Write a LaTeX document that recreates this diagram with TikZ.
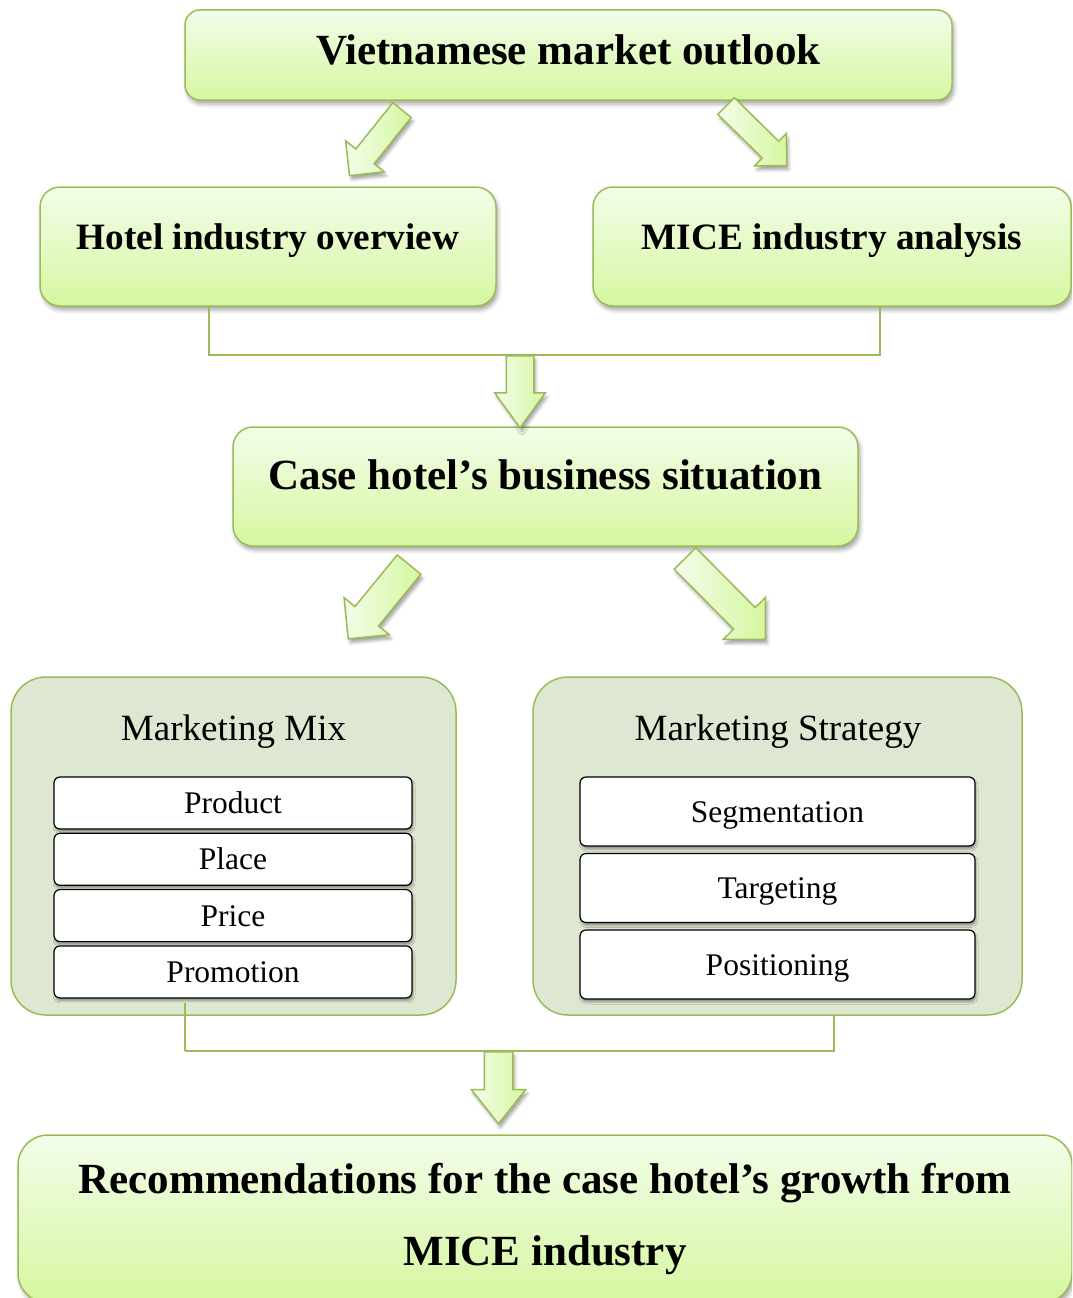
\documentclass[tikz,border=0pt]{standalone}
\usepackage{fontspec}
\setmainfont{Liberation Serif}
\usetikzlibrary{shapes.arrows,shadows.blur}

\definecolor{grnline}{RGB}{155,187,89}
\definecolor{grntop}{RGB}{243,253,234}
\definecolor{grnbot}{RGB}{214,247,160}
\definecolor{panelfill}{RGB}{222,231,209}

\tikzset{
	greenbox/.style={draw=grnline, line width=1.5pt, rounded corners=20pt, top color=grntop, bottom color=grnbot,
		blur shadow={shadow xshift=2pt, shadow yshift=-4pt, shadow blur radius=4pt, shadow opacity=35},
		font=\fontsize{43}{50}\selectfont\bfseries},
	onerow/.style={text height=22pt, text depth=16pt},
	subfont/.style={font=\fontsize{37.2}{44}\selectfont\bfseries},
	panel/.style={draw=grnline, line width=1.5pt, rounded corners=35pt, fill=panelfill},
	itembox/.style={draw=black, line width=1.2pt, fill=white, rounded corners=6pt, text height=21pt, text depth=0pt,
		blur shadow={shadow xshift=1pt, shadow yshift=-3pt, shadow blur radius=2pt, shadow opacity=35},
		font=\fontsize{31.5}{36}\selectfont},
	paneltitle/.style={anchor=base, font=\fontsize{37}{44}\selectfont},
	bigarrow/.style={single arrow, draw=grnline, line width=1.5pt, left color=grntop, right color=grnbot,
		inner xsep=0pt, minimum width=0pt, anchor=tail,
		blur shadow={shadow xshift=2pt, shadow yshift=-4pt, shadow blur radius=3pt, shadow opacity=35}},
	link/.style={draw=grnline, line width=1.5pt}
}

\begin{document}
\begin{tikzpicture}[x=1pt,y=-1pt]
	\useasboundingbox (0,0) rectangle (1072,1298);
	\clip (0,0) rectangle (1072,1298);
	% joints of the two collecting lines
	\coordinate (j1) at (209,355);
	\coordinate (j2) at (880,355);
	\coordinate (j3) at (185,1051);
	\coordinate (j4) at (834,1051);
	% upper part
	\node[greenbox, onerow, minimum width=767pt, minimum height=90pt, rounded corners=15pt,
		text height=25pt, text depth=7pt] (outlook) at (568.5,55) {Vietnamese market outlook};
	\node[greenbox, onerow, subfont, minimum width=456pt, minimum height=119pt] (hotel) at (268,246.5) {Hotel industry overview};
	\node[greenbox, onerow, subfont, minimum width=478pt, minimum height=119pt] (mice) at (832,246.5) {MICE industry analysis};
	\draw[link] (hotel.south -| j1) -- (j1) -- (j2) -- (mice.south -| j2);
	\node[greenbox, onerow, minimum width=625pt, minimum height=119pt] (case) at (545.5,486.5) {Case hotel’s business situation};
	\node[bigarrow, inner ysep=11pt, single arrow head extend=13pt, minimum height=84pt, rotate=-128.7] (arrA) at (402.5,109.5) {};
	\node[bigarrow, inner ysep=11pt, single arrow head extend=11pt, minimum height=85pt, rotate=-44.5] (arrB) at (725.5,105.5) {};
	\node[bigarrow, inner ysep=13pt, single arrow head extend=11.5pt, single arrow tip angle=72, minimum height=72pt, rotate=-90] (arrE) at (520,355) {};
	% marketing panels
	\draw[link] (j3) -- (j4) -- (834,1015);
	\node[panel, minimum width=445pt, minimum height=338pt] (mix) at (233.5,846) {};
	\node[panel, minimum width=489pt, minimum height=338pt] (strat) at (777.5,846) {};
	\draw[link] (185,1003) -- (j3);
	\node[paneltitle] (mixtitle) at (233.5,740) {Marketing Mix};
	\node[paneltitle] (strattitle) at (778,740) {Marketing Strategy};
	\foreach \lbl [count=\i] in {Product,Place,Price,Promotion}
		\node[itembox, minimum width=358pt, minimum height=52pt] (mix\i) at (233,803+56.3*\i-56.3) {\lbl};
	\foreach \lbl [count=\i] in {Segmentation,Targeting,Positioning}
		\node[itembox, minimum width=395pt, minimum height=69pt] (strat\i) at (777.5,811.5+76.5*\i-76.5) {\lbl};
	\node[bigarrow, inner ysep=14.5pt, single arrow head extend=14pt, minimum height=96pt, rotate=-129.3] (arrC) at (409.5,564) {};
	\node[bigarrow, inner ysep=14.5pt, single arrow head extend=14.5pt, minimum height=114pt, rotate=-45.2] (arrD) at (684.5,558) {};
	% result
	\node[bigarrow, inner ysep=13.5pt, single arrow head extend=13pt, single arrow tip angle=77, minimum height=72pt, rotate=-90] (arrF) at (498.5,1051) {};
	\node[greenbox, minimum width=1054pt, minimum height=168pt, rounded corners=30pt, align=center,
		font=\fontsize{43}{72}\selectfont\bfseries] (recom) at (545,1219)
		{Recommendations for the case hotel’s growth from\\MICE industry};
\end{tikzpicture}
\end{document}
